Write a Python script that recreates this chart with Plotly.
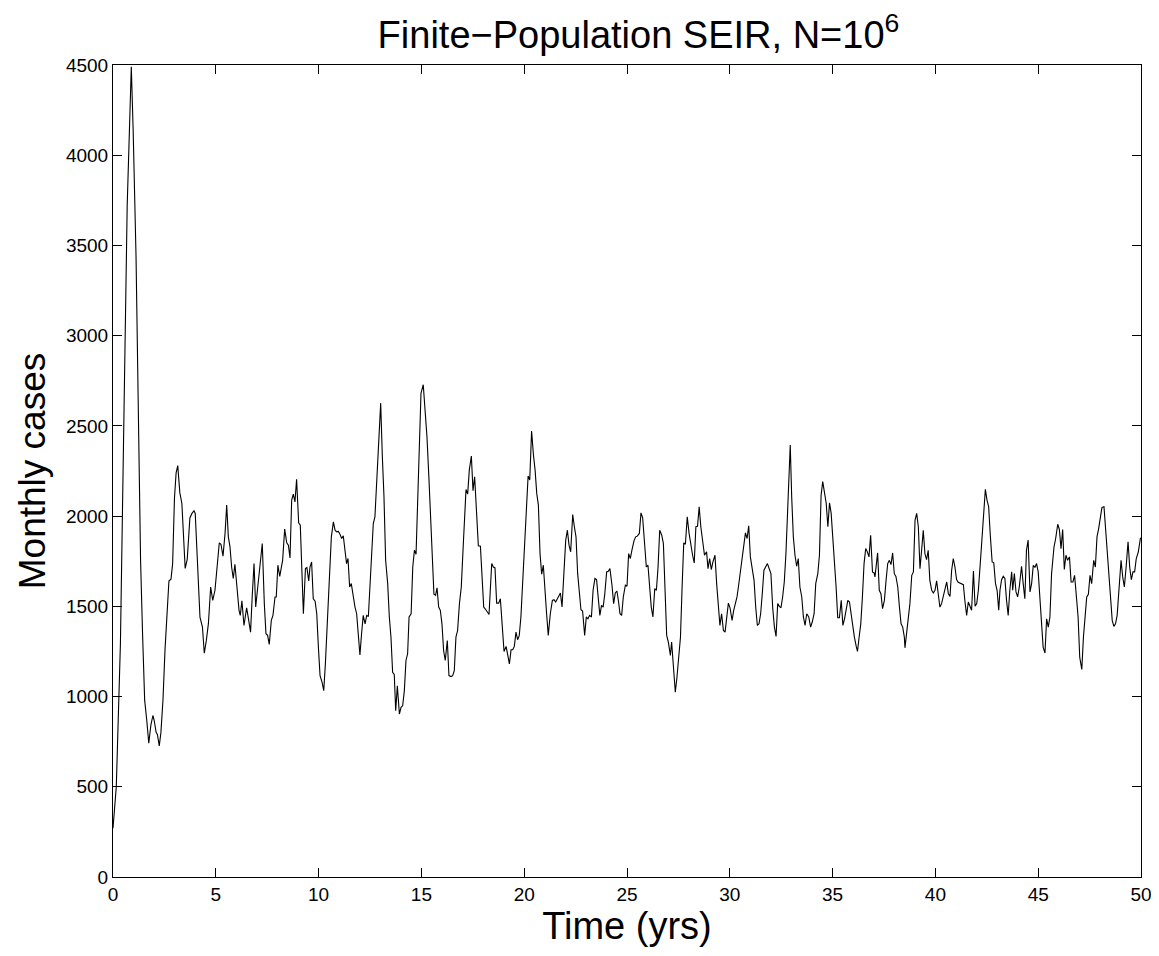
import plotly.graph_objects as go

# Time (years) and monthly case counts
time_yrs = [
    0.0, 0.16, 0.36, 0.52, 0.69, 0.89, 0.98, 1.12, 1.25, 1.34, 1.44, 1.54, 1.64, 1.74, 1.84, 1.94, 2.0,
    2.1, 2.16, 2.25, 2.33, 2.43, 2.53, 2.62, 2.72, 2.82, 2.9, 2.99, 3.07, 3.15, 3.25, 3.35, 3.44, 3.51,
    3.61, 3.74, 3.84, 3.94, 4.0,
    4.12, 4.23, 4.35, 4.44, 4.54, 4.64, 4.75, 4.85, 4.96, 5.06, 5.17, 5.25, 5.35, 5.45, 5.53, 5.61, 5.69,
    5.77, 5.85, 5.93, 6.02, 6.13, 6.19, 6.27, 6.37, 6.5, 6.6, 6.69, 6.77, 6.86, 6.94, 7.04, 7.15, 7.26,
    7.36, 7.44, 7.52, 7.6, 7.7, 7.78, 7.88, 7.94, 8.02, 8.11,
    8.25, 8.35, 8.45, 8.53, 8.61, 8.69, 8.77, 8.85, 8.93, 9.03, 9.11, 9.19, 9.26, 9.36, 9.43, 9.52, 9.58,
    9.66, 9.74, 9.83, 9.91, 9.99, 10.07, 10.17, 10.25, 10.33, 10.43, 10.52, 10.62, 10.72, 10.8, 10.88,
    10.96, 11.04, 11.12, 11.2, 11.3, 11.36, 11.43, 11.51, 11.59, 11.69, 11.77, 11.85, 11.93, 12.01,
    12.09, 12.17, 12.26, 12.34, 12.42,
    12.55, 12.66, 12.74, 12.84, 12.93, 13.02, 13.1, 13.18, 13.26, 13.36, 13.44, 13.52, 13.6, 13.68,
    13.75, 13.83, 13.93, 14.01, 14.09, 14.17, 14.25, 14.33, 14.4, 14.5, 14.58, 14.66, 14.74, 14.82,
    14.9, 14.98, 15.09, 15.17, 15.27, 15.37, 15.45, 15.53, 15.61, 15.69, 15.76, 15.84, 15.92, 16.0,
    16.08, 16.16, 16.26, 16.34, 16.44, 16.52,
    16.6, 16.68, 16.76, 16.85, 16.94, 17.04, 17.17, 17.25, 17.33, 17.43, 17.51, 17.59, 17.67, 17.77,
    17.87, 17.95, 18.03, 18.11, 18.21, 18.29, 18.35, 18.42, 18.5, 18.58, 18.66, 18.76, 18.84, 18.92,
    19.02, 19.12, 19.2, 19.28, 19.36, 19.44, 19.52, 19.6, 19.68, 19.76, 19.84, 19.93, 20.03, 20.12,
    20.19, 20.27, 20.36, 20.45,
    20.53, 20.61, 20.69, 20.77, 20.85, 20.93, 21.01, 21.09, 21.17, 21.27, 21.37, 21.45, 21.53, 21.61,
    21.69, 21.76, 21.84, 21.92, 22.02, 22.1, 22.18, 22.26, 22.36, 22.44, 22.52, 22.6, 22.68, 22.76,
    22.84, 22.94, 23.02, 23.1, 23.18, 23.27, 23.35, 23.44, 23.52, 23.6, 23.68, 23.76, 23.84, 23.92,
    24.01, 24.09, 24.17, 24.27, 24.35, 24.43, 24.51, 24.59,
    24.66, 24.74, 24.82, 24.92, 25.0, 25.08, 25.16, 25.24, 25.34, 25.42, 25.5, 25.6, 25.68, 25.76,
    25.84, 25.94, 26.02, 26.1, 26.18, 26.26, 26.35, 26.43, 26.51, 26.59, 26.69, 26.77, 26.85, 26.93,
    27.01, 27.11, 27.17, 27.25, 27.35, 27.43, 27.51, 27.6, 27.68, 27.76, 27.84, 27.93, 28.02, 28.11,
    28.19, 28.27, 28.35, 28.43, 28.51, 28.59, 28.67, 28.77,
    28.87, 28.94, 29.02, 29.1, 29.18, 29.28, 29.36, 29.44, 29.52, 29.6, 29.69, 29.77, 29.85, 29.93,
    30.01, 30.11, 30.19, 30.27, 30.35, 30.43, 30.51, 30.59, 30.67, 30.76, 30.84, 30.92, 31.0, 31.1,
    31.18, 31.26, 31.34, 31.42, 31.5, 31.58, 31.66, 31.74, 31.83, 31.93, 32.0, 32.09, 32.17, 32.25,
    32.33, 32.41, 32.49, 32.57, 32.65, 32.73, 32.81, 32.88, 32.94,
    33.01, 33.09, 33.17, 33.25, 33.33, 33.41, 33.5, 33.58, 33.66, 33.74, 33.84, 33.93, 34.01, 34.1,
    34.18, 34.28, 34.36, 34.44, 34.52, 34.6, 34.69, 34.77, 34.85, 34.93, 35.01, 35.09, 35.17, 35.25,
    35.33, 35.42, 35.5, 35.58, 35.66, 35.74, 35.82, 35.9, 35.98, 36.06, 36.15, 36.21, 36.29, 36.37,
    36.45, 36.53, 36.61, 36.69, 36.77, 36.85, 36.94, 37.02,
    37.06, 37.19, 37.27, 37.35, 37.43, 37.52, 37.6, 37.68, 37.76, 37.84, 37.92, 38.0, 38.08, 38.17,
    38.25, 38.33, 38.41, 38.49, 38.52, 38.6, 38.68, 38.76, 38.85, 38.93, 39.01, 39.09, 39.17, 39.25,
    39.33, 39.41, 39.49, 39.57, 39.65, 39.73, 39.82, 39.9, 39.98, 40.06, 40.14, 40.22, 40.3, 40.38,
    40.47, 40.55, 40.63, 40.71, 40.79, 40.87, 40.95, 41.03, 41.11,
    41.2, 41.28, 41.36, 41.44, 41.52, 41.6, 41.68, 41.76, 41.85, 41.93, 42.01, 42.09, 42.17, 42.25,
    42.33, 42.43, 42.51, 42.59, 42.67, 42.76, 42.84, 42.92, 43.0, 43.08, 43.14, 43.22, 43.3, 43.38,
    43.46, 43.54, 43.62, 43.71, 43.76, 43.84, 43.92, 44.0, 44.08, 44.19, 44.27, 44.35, 44.43, 44.51,
    44.6, 44.68, 44.76, 44.84, 44.92, 45.0, 45.08, 45.16, 45.24, 45.33,
    45.41, 45.49, 45.57, 45.65, 45.77, 45.85, 45.95, 46.03, 46.11, 46.19, 46.27, 46.35, 46.43, 46.52,
    46.6, 46.69, 46.77, 46.86, 46.94, 47.02, 47.12, 47.2, 47.28, 47.36, 47.44, 47.52, 47.6, 47.7,
    47.78, 47.86, 47.94, 48.02, 48.1, 48.2, 48.28, 48.36, 48.44, 48.52, 48.6, 48.68, 48.76, 48.84,
    48.93, 49.03, 49.11, 49.19, 49.27, 49.37, 49.45, 49.53, 49.61, 49.69, 49.77, 49.87, 49.97, 50.0,
]

monthly_cases = [
    270, 500, 1290, 2430, 3720, 4490, 4140, 3440, 2320, 1760, 1340, 980, 870, 742, 840, 895, 870,
    800, 790, 727, 800, 980, 1260, 1480, 1640, 1650, 1735, 2100, 2240, 2280, 2130, 2070, 1880, 1710,
    1760, 1990, 2015, 2030, 2015,
    1737, 1440, 1385, 1240, 1311, 1404, 1607, 1533, 1589, 1718, 1852, 1844, 1778, 1904, 2061, 1885, 1830,
    1718, 1654, 1733, 1626, 1478, 1450, 1530, 1394, 1492, 1422, 1357, 1552, 1737, 1496, 1607, 1718, 1848,
    1515, 1348, 1339, 1289, 1422, 1450, 1552, 1552, 1728, 1666,
    1755, 1928, 1852, 1839, 1768, 2089, 2122, 2079, 2204, 1963, 1950, 1700, 1459, 1709, 1715, 1641, 1718,
    1746, 1542, 1528, 1459, 1274, 1116, 1079, 1033, 1181, 1403, 1663, 1885, 1968, 1922, 1913,
    1915, 1900, 1876, 1891, 1774, 1737, 1765, 1607, 1626, 1542, 1496, 1459, 1348, 1231,
    1348, 1450, 1403, 1450, 1444,
    1700, 1959, 1996, 2218, 2441, 2626, 2330, 2107, 1755, 1626, 1441, 1329, 1135, 1122,
    922, 1059, 903, 940, 950, 1033, 1200, 1237, 1441, 1459, 1718, 1811, 1789, 2070,
    2385, 2681, 2728, 2589, 2441, 2200, 1959, 1774, 1567, 1561, 1603, 1496, 1478, 1403,
    1255, 1200, 1311, 1116, 1111, 1116,
    1144, 1329, 1366, 1515, 1607, 1848, 2148, 2122, 2255, 2333, 2141, 2218, 2015, 1835,
    1833, 1626, 1496, 1485, 1468, 1455, 1589, 1737, 1718, 1713, 1518, 1518, 1542, 1403,
    1250, 1278, 1222, 1181, 1259, 1259, 1278, 1357, 1315, 1339, 1441, 1626, 1885, 2033,
    2222, 2200, 2472, 2339,
    2255, 2126, 2061, 1792, 1678, 1728, 1570, 1459, 1339, 1459, 1533, 1537, 1524, 1542,
    1555, 1574, 1496, 1700, 1867, 1922, 1839, 1802, 2009, 1941, 1885, 1681, 1570, 1481,
    1474, 1339, 1441, 1431, 1450, 1441, 1589, 1654, 1648, 1533, 1450, 1505, 1496, 1570,
    1691, 1694, 1709, 1617, 1515, 1574, 1585, 1524,
    1459, 1450, 1552, 1617, 1611, 1792, 1765, 1811, 1863, 1885, 1889, 1904, 2018, 1992,
    1848, 1718, 1728, 1626, 1496, 1441, 1598, 1589, 1718, 1922, 1894, 1848, 1589, 1339,
    1302, 1228, 1302, 1163, 1024, 1107, 1218, 1329, 1607, 1852, 1844, 1996, 1904, 1830,
    1783, 1741, 1941, 1944, 2052, 1941, 1867, 1783,
    1802, 1709, 1765, 1704, 1746, 1783, 1626, 1496, 1394, 1459, 1366, 1357, 1459, 1518,
    1492, 1422, 1478, 1518, 1552, 1617, 1691, 1746, 1830, 1907, 1876, 1946, 1774, 1700,
    1644, 1496, 1394, 1403, 1459, 1570, 1700, 1718, 1737, 1704, 1681, 1487, 1385, 1333,
    1515, 1500, 1492, 1552, 1635, 1792, 2033, 2200, 2394,
    2107, 1885, 1783, 1722, 1765, 1607, 1552, 1441, 1394, 1459, 1441, 1385, 1413, 1459,
    1626, 1681, 1783, 2116, 2191, 2135, 2070, 1941, 2074, 2015, 1885, 1755, 1607, 1437,
    1437, 1533, 1394, 1431, 1481, 1533, 1524, 1459, 1385, 1329, 1278, 1250, 1329, 1403,
    1552, 1737, 1820, 1802, 1774, 1894, 1691, 1685,
    1663, 1796, 1589, 1570, 1487, 1533, 1644, 1737, 1755, 1731, 1796, 1681, 1666, 1607,
    1496, 1403, 1385, 1329, 1270, 1348, 1422, 1515, 1672, 1691, 1978, 2015, 1941, 1709,
    1811, 1922, 1792, 1759, 1811, 1644, 1589, 1574, 1589, 1641, 1567, 1496, 1515, 1552,
    1607, 1635, 1570, 1555, 1700, 1765, 1718, 1648, 1633,
    1629, 1626, 1620, 1524, 1450, 1524, 1505, 1478, 1696, 1500, 1515, 1589, 1718, 1848,
    1996, 2148, 2089, 2052, 1894, 1746, 1741, 1629, 1589, 1478, 1589, 1648, 1666, 1654,
    1533, 1450, 1589, 1691, 1589, 1681, 1580, 1552, 1607, 1722, 1626, 1542, 1811, 1867,
    1580, 1626, 1728, 1715, 1737, 1691, 1552, 1403, 1274, 1241,
    1431, 1385, 1441, 1681, 1830, 1876, 1955, 1926, 1820, 1926, 1704, 1783, 1755, 1774,
    1635, 1635, 1672, 1552, 1441, 1218, 1150, 1329, 1441, 1552, 1567, 1672, 1626, 1755,
    1718, 1885, 1931, 1987, 2048, 2052, 1922, 1774, 1626, 1496, 1422, 1389, 1403, 1450,
    1607, 1755, 1663, 1607, 1709, 1857, 1718, 1648, 1691, 1691, 1765, 1802, 1876, 1880,
]

x_ticks = [0, 5, 10, 15, 20, 25, 30, 35, 40, 45, 50]
y_ticks = [0, 500, 1000, 1500, 2000, 2500, 3000, 3500, 4000, 4500]

FONT = "Liberation Sans, Arial, Helvetica, sans-serif"

fig = go.Figure()
fig.add_trace(go.Scatter(
    x=time_yrs, y=monthly_cases, mode="lines",
    line=dict(color="black", width=1.1),
    showlegend=False, hoverinfo="x+y",
))

axis_common = dict(
    showline=True, linecolor="black", linewidth=1, mirror="ticks",
    ticks="inside", ticklen=9, tickcolor="black", tickwidth=1,
    showgrid=False, zeroline=False,
    tickfont=dict(family=FONT, size=19, color="black"),
)

fig.update_layout(
    width=1159, height=956,
    paper_bgcolor="white", plot_bgcolor="white",
    margin=dict(l=105, r=26, t=57, b=87),
    title=dict(
        text="Finite\u2212Population SEIR, N=10<sup>6</sup>",
        x=0.544, xanchor="center", y=0.972, yanchor="middle",
        font=dict(family=FONT, size=38, color="black"),
    ),
    xaxis=dict(
        range=[0, 50], tickvals=x_ticks, ticktext=[str(v) for v in x_ticks],
        title=dict(text="Time (yrs)", font=dict(family=FONT, size=38, color="black"), standoff=3),
        **axis_common,
    ),
    yaxis=dict(
        range=[0, 4500], tickvals=y_ticks, ticktext=[str(v) for v in y_ticks],
        title=dict(text="Monthly cases", font=dict(family=FONT, size=37, color="black"), standoff=8),
        **axis_common,
    ),
)

fig.write_html("out.html")
